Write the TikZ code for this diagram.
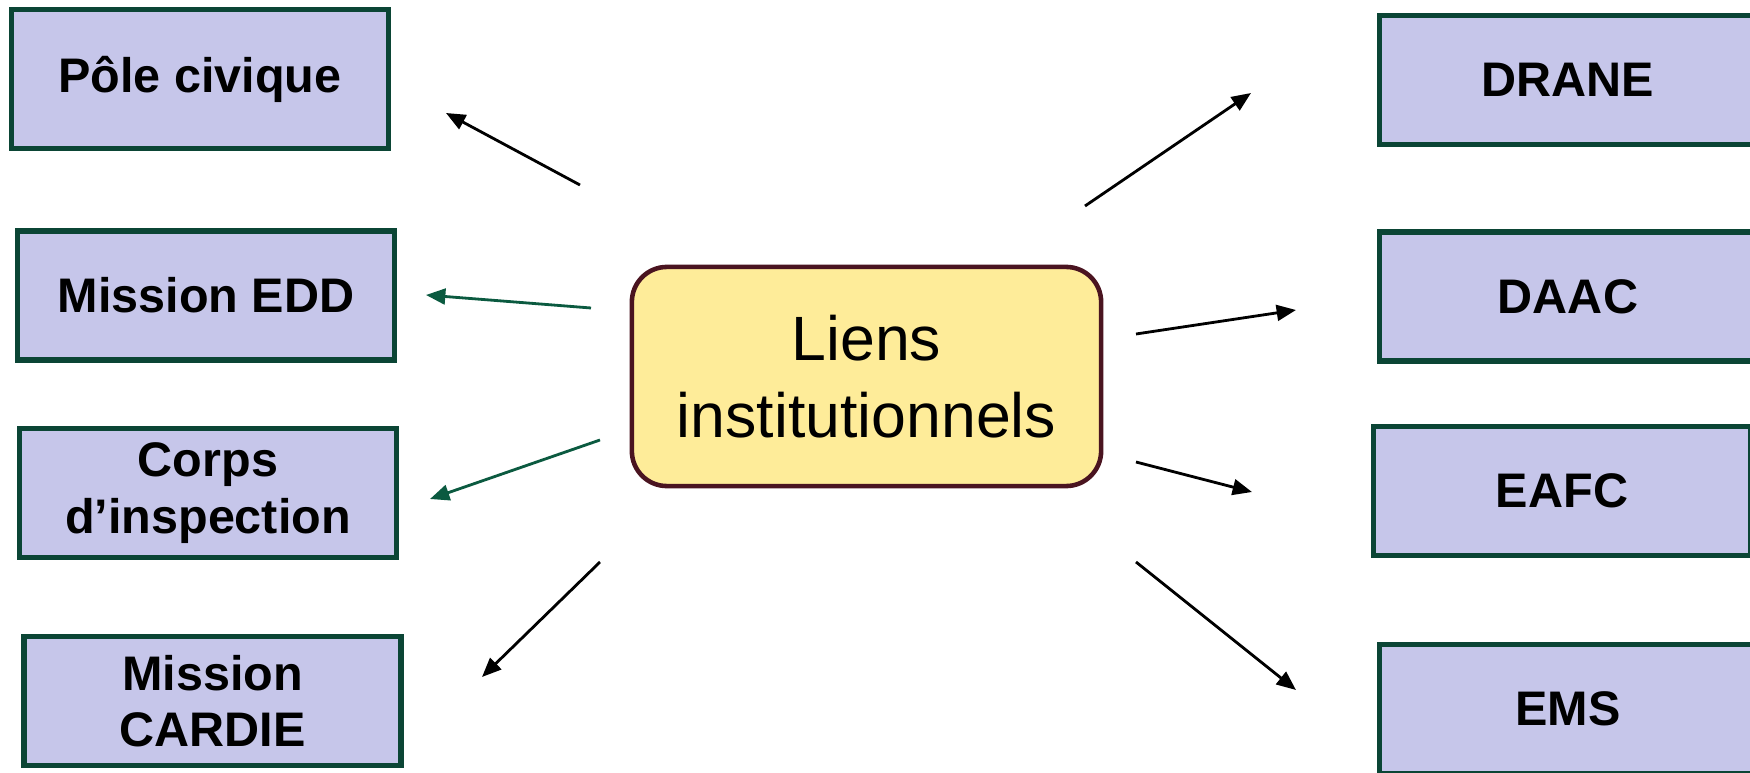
\documentclass[tikz,border=0pt]{standalone}
\usepackage{fontspec}
\setmainfont{Liberation Sans}
\usepackage{tikz}
\usetikzlibrary{arrows.meta}
\definecolor{boxfill}{HTML}{C6C6EA}
\definecolor{boxline}{HTML}{0B4535}
\definecolor{hubfill}{HTML}{FEEC99}
\definecolor{hubline}{HTML}{4A1420}
\definecolor{linkgreen}{HTML}{0B5A40}
\tikzstyle{service}=[rectangle,draw=boxline,fill=boxfill,line width=1.5pt,minimum width=3.77cm,minimum height=1.29cm,align=center,font=\fontsize{13.8}{16}\selectfont\bfseries]
\tikzstyle{hub}=[rectangle,rounded corners=0.35cm,draw=hubline,fill=hubfill,line width=1.3pt,minimum width=4.69cm,minimum height=2.19cm,align=center,font=\fontsize{17.8}{22}\selectfont]
\tikzstyle{link} = [draw, line width=0.8pt, -{Triangle[length=5.5pt,width=4.5pt]}]

\begin{document}
\begin{tikzpicture}[x=0.01cm,y=-0.01cm]
  \useasboundingbox (0,0) rectangle (1750,773);
  % centre
  \node[hub] (liens) at (866.5,376.5) {Liens\\institutionnels};
  % left column
  \node[service,minimum height=1.39cm] (pole) at (200,79) {Pôle civique};
  \node[service] (edd) at (206,295.5) {Mission EDD};
  \node[service] (corps) at (208,493) {Corps\\d’inspection};
  \node[service] (cardie) at (212.5,701) {Mission\\CARDIE};
  % right column
  \node[service] (drane) at (1568,80) {DRANE};
  \node[service] (daac) at (1568,296.5) {DAAC};
  \node[service] (eafc) at (1562,491) {EAFC};
  \node[service] (ems) at (1568,709) {EMS};
  % arrow ends
  \coordinate (pole-from) at (580,185);   \coordinate (pole-to) at (446,113);
  \coordinate (edd-from) at (591,308);    \coordinate (edd-to) at (426,295);
  \coordinate (corps-from) at (600,440);  \coordinate (corps-to) at (430,499);
  \coordinate (cardie-from) at (600,562); \coordinate (cardie-to) at (482,677);
  \coordinate (drane-from) at (1085,206); \coordinate (drane-to) at (1251,93);
  \coordinate (daac-from) at (1136,334);  \coordinate (daac-to) at (1296,310);
  \coordinate (eafc-from) at (1136,462);  \coordinate (eafc-to) at (1252,492);
  \coordinate (ems-from) at (1136,562);   \coordinate (ems-to) at (1296,690);
  % arrows
  \path [link] (pole-from) -- (pole-to);
  \path [link,draw=linkgreen,fill=linkgreen] (edd-from) -- (edd-to);
  \path [link,draw=linkgreen,fill=linkgreen] (corps-from) -- (corps-to);
  \path [link] (cardie-from) -- (cardie-to);
  \path [link] (drane-from) -- (drane-to);
  \path [link] (daac-from) -- (daac-to);
  \path [link] (eafc-from) -- (eafc-to);
  \path [link] (ems-from) -- (ems-to);
\end{tikzpicture}
\end{document}
